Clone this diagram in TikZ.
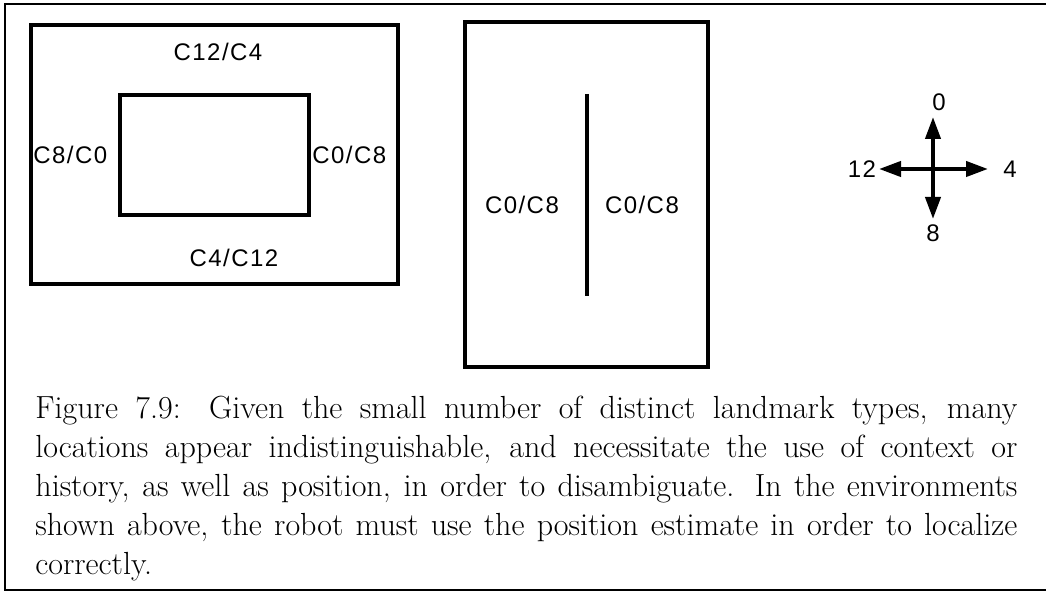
\documentclass[tikz,border=0pt]{standalone}
\usepackage{fontspec}
\newfontfamily\plotfont[LetterSpace=6]{Liberation Sans}
\usetikzlibrary{arrows.meta}

\tikzset{
  wall/.style={line width=2pt},
  tag/.style={font=\plotfont\fontsize{12}{14}\selectfont, inner sep=0pt},
  compass/.style={line width=2pt, -{Triangle[length=11pt,width=7.5pt]}},
  caption/.style={font=\fontsize{16}{19.4}\selectfont, text width=491pt,
    align=justify, inner sep=0pt},
}

\begin{document}
\begin{tikzpicture}[x=0.5pt,y=-0.5pt]
  \useasboundingbox (0,0) rectangle (1046,592);
  % page frame, open on the right
  \draw[line width=1pt] (1046,4) -- (5,4) -- (5,590) -- (1046,590);

  % first environment: room around a block
  \draw[wall] (31,25) rectangle (398,284);
  \draw[wall] (120,95) rectangle (309,215);
  \node[tag] (roomtop) at (218,52) {C12/C4};
  \node[tag, anchor=west] (roomleft) at (33,155) {C8/C0};
  \node[tag, anchor=west] (roomright) at (312,155) {C0/C8};
  \node[tag] (roombot) at (234,258) {C4/C12};

  % second environment: one wall in a room
  \draw[wall] (465,22) rectangle (708,367);
  \draw[wall] (587,94) -- (587,296);
  \node[tag] (wallleft) at (522,205) {C0/C8};
  \node[tag] (wallright) at (642,205) {C0/C8};

  % compass
  \coordinate (hub) at (933,169);
  \coordinate (tipN) at (933,117);
  \coordinate (tipS) at (933,219);
  \coordinate (tipW) at (879,169);
  \coordinate (tipE) at (988,169);
  \draw[compass] (hub) -- (tipN);
  \draw[compass] (hub) -- (tipS);
  \draw[compass] (hub) -- (tipW);
  \draw[compass] (hub) -- (tipE);
  \node[tag] (dirN) at (939,102) {0};
  \node[tag] (dirW) at (862,169) {12};
  \node[tag] (dirE) at (1010,169) {4};
  \node[tag] (dirS) at (933,233) {8};

  % caption
  \node[caption, anchor=north west] (cap) at (35,396) {Figure 7.9: Given the
    small number of distinct landmark types, many\linebreak locations appear
    indistinguishable, and necessitate the use of context or\linebreak
    history, as well as position, in order to disambiguate. In the
    environments\linebreak shown above, the robot must use the position
    estimate in order to localize\linebreak correctly.};
\end{tikzpicture}
\end{document}
